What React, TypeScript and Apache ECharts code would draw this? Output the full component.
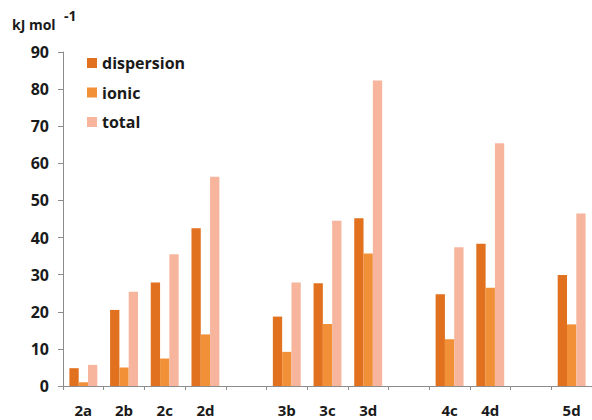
import React, { useEffect, useRef } from "react";
import * as echarts from "echarts";

const categories = ["2a", "2b", "2c", "2d", "", "3b", "3c", "3d", "", "4c", "4d", "", "5d"];
const dispersion = [4.8, 20.5, 27.9, 42.5, null, 18.7, 27.7, 45.2, null, 24.7, 38.3, null, 29.9];
const ionic = [1.0, 5.0, 7.4, 13.9, null, 9.2, 16.7, 35.7, null, 12.6, 26.5, null, 16.6];
const total = [5.7, 25.4, 35.5, 56.4, null, 27.9, 44.5, 82.3, null, 37.4, 65.4, null, 46.5];
const seriesNames = ["dispersion", "ionic", "total"];

const FONT = "'Open Sans', 'Liberation Sans', sans-serif";

export default function App() {
  const ref = useRef<HTMLDivElement>(null);
  useEffect(() => {
    if (!ref.current) return;
    const chart = echarts.init(ref.current, null, { renderer: "svg" });
    const colors = ["#E1711E", "#F19036", "#F6B59C"];
    const data = [dispersion, ionic, total];
    chart.setOption({
      animation: false,
      backgroundColor: "#ffffff",
      grid: { left: 63, top: 52, bottom: 34, right: -8, containLabel: false },
      legend: {
        orient: "vertical",
        left: 82,
        top: 49,
        itemWidth: 10,
        itemHeight: 10,
        itemGap: 11.5,
        icon: "rect",
        data: seriesNames,
        textStyle: { fontFamily: FONT, fontWeight: "bold", fontSize: 16, color: "#1a1a1a", lineHeight: 18 },
      },
      graphic: [
        { type: "text", left: 12, top: 17, style: { text: "kJ mol", font: `bold 14px ${FONT}`, fill: "#1a1a1a" } },
        { type: "text", left: 64, top: 8, style: { text: "-1", font: `bold 14px ${FONT}`, fill: "#1a1a1a" } },
      ],
      xAxis: {
        type: "category",
        data: categories,
        axisLine: { lineStyle: { color: "#8c8c8c", width: 1 } },
        axisTick: { show: true, length: 4, lineStyle: { color: "#8c8c8c" }, alignWithLabel: false, interval: 0 },
        axisLabel: { interval: 0, margin: 16, fontFamily: FONT, fontWeight: "bold", fontSize: 15, color: "#1a1a1a" },
      },
      yAxis: {
        type: "value",
        min: 0,
        max: 90,
        interval: 10,
        splitLine: { show: false },
        axisLine: { show: true, lineStyle: { color: "#8c8c8c", width: 1 } },
        axisTick: { show: true, length: 5, lineStyle: { color: "#8c8c8c" } },
        axisLabel: { margin: 14, fontFamily: FONT, fontWeight: "bold", fontSize: 16, color: "#1a1a1a" },
      },
      series: seriesNames.map((name, i) => ({
        name,
        type: "bar",
        data: data[i],
        barWidth: 9.3,
        barGap: "0%",
        itemStyle: { color: colors[i] },
      })),
    });
    return () => chart.dispose();
  }, []);
  return (
    <div
      ref={ref}
      style={{ position: "absolute", left: 0, top: 0, width: 592, height: 420 }}
    />
  );
}
